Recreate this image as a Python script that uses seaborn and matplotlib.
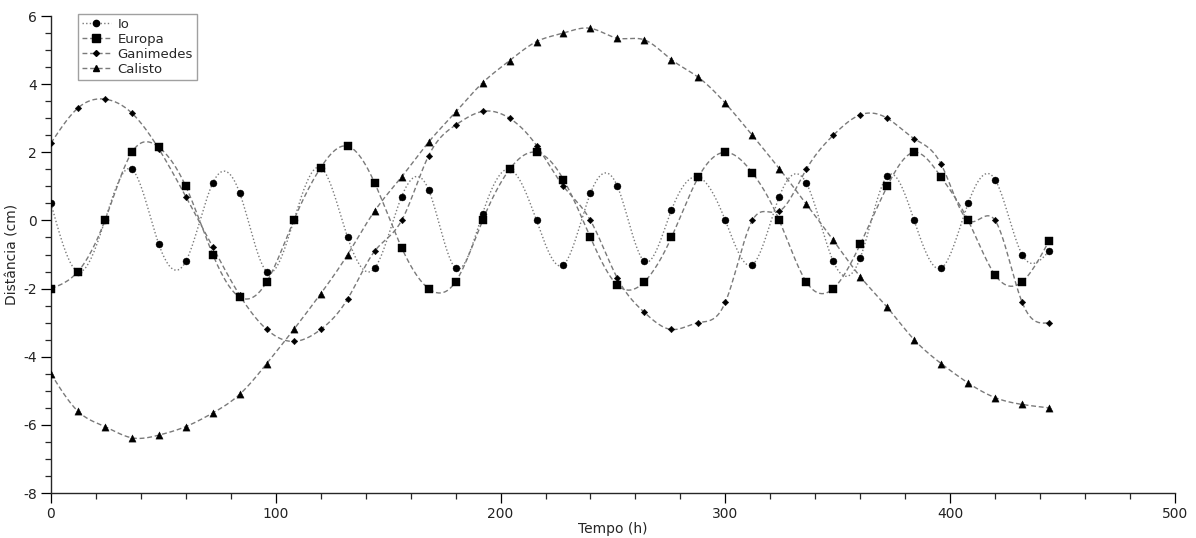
import numpy as np
import pandas as pd
import matplotlib
matplotlib.use("Agg")
import matplotlib.pyplot as plt
from matplotlib.lines import Line2D
from matplotlib.ticker import MultipleLocator
import seaborn as sns

# ---- data ----
tempo = list(range(0, 445, 12))  # 0..444 h

io = [0.5, -1.5, 0.0, 1.5, -0.7, -1.2, 1.1, 0.8, -1.5, 0.0, 1.55, -0.5,
      -1.4, 0.7, 0.9, -1.4, 0.2, 1.5, 0.0, -1.3, 0.8, 1.0, -1.2, 0.3,
      1.27, 0.0, -1.3, 0.7, 1.1, -1.2, -1.1, 1.3, 0.0, -1.4, 0.5, 1.2,
      -1.0, -0.9]
europa = [-2.0, -1.5, 0.0, 2.0, 2.15, 1.0, -1.0, -2.25, -1.8, 0.0, 1.55, 2.18,
          1.1, -0.8, -2.0, -1.8, 0.0, 1.5, 2.0, 1.2, -0.5, -1.9, -1.8, -0.5,
          1.27, 2.0, 1.4, 0.0, -1.8, -2.0, -0.7, 1.0, 2.0, 1.27, 0.0, -1.6,
          -1.8, -0.6]
ganimedes = [2.27, 3.3, 3.56, 3.15, 2.1, 0.7, -0.78, -2.2, -3.2, -3.55, -3.2, -2.3,
             -0.9, 0.0, 1.9, 2.8, 3.2, 3.0, 2.2, 1.0, 0.0, -1.7, -2.7, -3.2,
             -3.0, -2.4, 0.0, 0.27, 1.5, 2.5, 3.1, 3.0, 2.4, 1.65, 0.0, 0.0,
             -2.4, -3.0]
calisto = [-4.5, -5.6, -6.05, -6.38, -6.3, -6.05, -5.65, -5.1, -4.2, -3.2, -2.15, -1.0,
           0.28, 1.28, 2.3, 3.18, 4.04, 4.69, 5.25, 5.5, 5.64, 5.35, 5.3, 4.72,
           4.2, 3.44, 2.5, 1.52, 0.48, -0.58, -1.65, -2.55, -3.5, -4.2, -4.77, -5.2,
           -5.4, -5.5]

names = ["Io", "Europa", "Ganimedes", "Calisto"]
series = [io, europa, ganimedes, calisto]


def natural_spline(x, y, per=24):
    """Smooth curve through the data points (rendering only)."""
    x = np.asarray(x, float)
    y = np.asarray(y, float)
    n = len(x)
    h = np.diff(x)
    A = np.zeros((n, n))
    b = np.zeros(n)
    A[0, 0] = 1
    A[-1, -1] = 1
    for i in range(1, n - 1):
        A[i, i - 1] = h[i - 1]
        A[i, i] = 2 * (h[i - 1] + h[i])
        A[i, i + 1] = h[i]
        b[i] = 3 * ((y[i + 1] - y[i]) / h[i] - (y[i] - y[i - 1]) / h[i - 1])
    c = np.linalg.solve(A, b)
    xs, ys = [], []
    for i in range(n - 1):
        bi = (y[i + 1] - y[i]) / h[i] - h[i] * (2 * c[i] + c[i + 1]) / 3
        di = (c[i + 1] - c[i]) / (3 * h[i])
        t = np.linspace(0, h[i], per, endpoint=(i == n - 2))
        xs.append(x[i] + t)
        ys.append(y[i] + bi * t + c[i] * t ** 2 + di * t ** 3)
    return np.concatenate(xs), np.concatenate(ys)


sns.set_style("ticks")
plt.rcParams["font.family"] = ["DejaVu Sans"]
plt.rcParams["axes.unicode_minus"] = False

fig = plt.figure(figsize=(11.96, 5.38), dpi=100)
ax = fig.add_axes([0.0426, 0.0836, 0.9398, 0.8866])

line_color = "#7a7a7a"
styles = {
    "Io": dict(ls=(0, (1, 1.6)), marker="o", ms=5.0),
    "Europa": dict(ls=(0, (3.5, 2)), marker="s", ms=6.2),
    "Ganimedes": dict(ls=(0, (3.5, 2)), marker="D", ms=3.3),
    "Calisto": dict(ls=(0, (3.5, 2)), marker="^", ms=5.2),
}

handles = []
for name, vals in zip(names, series):
    st = styles[name]
    sx, sy = natural_spline(tempo, vals)
    curve = pd.DataFrame({"t": sx, "d": sy})
    sns.lineplot(data=curve, x="t", y="d", ax=ax, sort=False, color=line_color,
                 linewidth=1.0, linestyle=st["ls"], zorder=2)
    pts = pd.DataFrame({"t": tempo, "d": vals})
    sns.scatterplot(data=pts, x="t", y="d", ax=ax, marker=st["marker"],
                    s=(st["ms"] ** 2), color="black", edgecolor="black",
                    linewidth=0.3, zorder=3)
    handles.append(Line2D([0], [0], color=line_color, lw=1.0, ls=st["ls"],
                          marker=st["marker"], markersize=st["ms"] * 0.9,
                          markerfacecolor="black", markeredgecolor="black"))

ax.set_xlim(0, 500)
ax.set_ylim(-8, 6)
ax.xaxis.set_major_locator(MultipleLocator(100))
ax.xaxis.set_minor_locator(MultipleLocator(20))
ax.yaxis.set_major_locator(MultipleLocator(2))
ax.yaxis.set_minor_locator(MultipleLocator(0.5))
ax.tick_params(axis="both", which="major", length=7, width=0.9, direction="out",
               labelsize=10, colors="black", pad=3)
ax.tick_params(axis="both", which="minor", length=4, width=0.9, direction="out")
for lab in ax.get_xticklabels() + ax.get_yticklabels():
    lab.set_color("#222222")

sns.despine(ax=ax)
ax.spines["left"].set_linewidth(1.0)
ax.spines["bottom"].set_linewidth(1.0)

ax.set_xlabel("Tempo (h)", fontsize=10)
ax.set_ylabel("Distância (cm)", fontsize=10)
ax.yaxis.set_label_coords(-0.028, 0.5)
ax.xaxis.set_label_coords(0.5, -0.06)

leg = ax.legend(handles, names, loc="upper left", bbox_to_anchor=(0.024, 1.005),
                borderaxespad=0, frameon=True, fancybox=False, fontsize=9.5,
                handlelength=2.2, handletextpad=0.5, labelspacing=0.15,
                borderpad=0.3)
leg.get_frame().set_edgecolor("#888888")
leg.get_frame().set_linewidth(1.0)

fig.savefig("out.png", dpi=100)
